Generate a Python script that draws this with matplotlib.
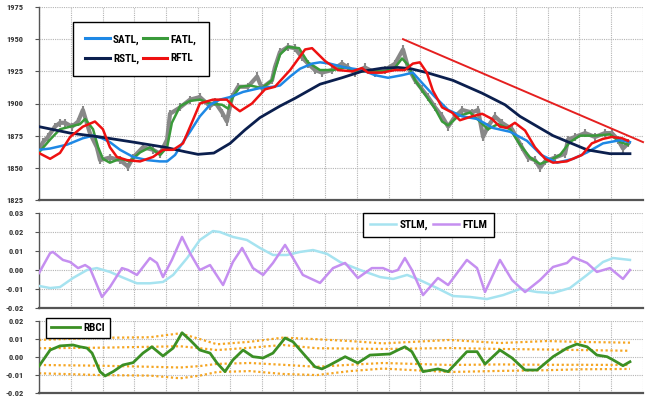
import matplotlib
matplotlib.use("Agg")
import matplotlib.pyplot as plt
from matplotlib import font_manager as fm
from matplotlib.font_manager import FontProperties
from matplotlib.ticker import FixedLocator, FormatStrFormatter

# ---------------- data (x = bar index, gridline every 10 bars) ----------------
price_x = [0, 1.3, 2.8, 5, 6.6, 8.2, 10.4, 12.3, 13.8, 16, 18.2, 19.2, 22.3, 25.5, 28, 29.6, 32.7,
           35.9, 38.1, 40.3, 41.2, 44.4, 47.5, 50.6, 53.8, 55.4, 57.6, 59.1, 60.7, 62.6, 65.7, 68.6,
           70.1, 73.3, 74.2, 75.8, 78.3, 80.5, 82.7, 84.6, 86.8, 89, 92.2, 95.3, 97.2, 99.4, 102.5,
           105.7, 108.8, 112, 114.5, 116.1, 118.3, 120.5, 122.4, 124.6, 126.8, 128.7, 130.9, 133.1,
           136.2, 138.1, 139.7, 141.2, 143.4, 145.6, 148.8, 151.9, 153.8, 156, 157.6, 159.2, 162.3,
           165.5, 166.4, 168.6, 171.8, 174.9, 178, 180.2, 182.1, 183.7, 185.3]
price = [1864, 1870, 1874, 1882, 1885, 1885, 1882, 1886, 1895, 1877, 1866, 1856, 1858, 1856, 1851,
         1858, 1866, 1864, 1861, 1872, 1892, 1897, 1903, 1905, 1898, 1901, 1893, 1886, 1905, 1913,
         1913, 1921, 1912, 1918, 1928, 1940, 1944, 1943, 1936, 1931, 1926, 1924, 1926, 1931, 1928,
         1924, 1928, 1924, 1926, 1931, 1942, 1928, 1918, 1911, 1905, 1897, 1890, 1882, 1890, 1895,
         1893, 1895, 1874, 1882, 1890, 1885, 1880, 1866, 1858, 1856, 1850, 1855, 1858, 1861, 1872,
         1874, 1877, 1874, 1877, 1877, 1872, 1865, 1869]

satl_x = [0, 3.5, 8.8, 13.8, 17, 19.8, 22.3, 25.5, 29.6, 34, 38, 40.3, 42.8, 45.3, 47.5, 50.6, 53.8,
          56.9, 60.1, 64.2, 69.5, 73.6, 75.8, 79, 82.1, 85.9, 88.4, 91.5, 96.3, 101.6, 105.7, 109.8,
          114.2, 117.6, 120.5, 124.6, 128.7, 133.1, 137.8, 142.8, 148.2, 153.5, 158, 163, 168,
          172.4, 177.4, 182.8, 185.9]
satl = [1864, 1865, 1868, 1873, 1875, 1873, 1870, 1864, 1858.5, 1856, 1855, 1855, 1860, 1870, 1878,
        1890, 1899, 1903, 1905, 1909, 1912, 1913, 1914, 1921, 1927, 1931, 1932, 1931, 1928, 1926,
        1922, 1920, 1922, 1924, 1916, 1905, 1895, 1890, 1888, 1881, 1878, 1871, 1860, 1854, 1857,
        1862, 1869, 1871.5, 1870]

fatl_x = [0, 3.5, 6.6, 9.8, 12.9, 14.5, 17, 18.6, 20.1, 22.3, 25.5, 28.6, 31.8, 34.9, 38.1, 40.3,
          41.8, 44.4, 47.5, 50.6, 53.8, 57.6, 59.5, 61, 63.2, 66.4, 70.1, 73.3, 75.8, 78.3, 81.8,
          84.6, 88.4, 92.5, 96.3, 100.3, 104.7, 108.8, 112, 114.2, 116.1, 118.3, 121.4, 124.6,
          126.8, 128.7, 131.8, 135.6, 138.7, 141.2, 144.4, 148.2, 151.3, 154.5, 157.6, 160.8,
          163.9, 167, 170.2, 174.9, 179.6, 182.8, 185.3]
fatl = [1862, 1872, 1880, 1882, 1884, 1888, 1880, 1866, 1857, 1854, 1857, 1855, 1862, 1866, 1860,
        1866, 1885, 1898, 1902, 1903, 1900, 1899, 1896, 1905, 1913, 1914, 1912, 1918, 1938, 1944,
        1943, 1932, 1926, 1926, 1928, 1925, 1925, 1925, 1928, 1935, 1930, 1918, 1907, 1896, 1886,
        1883, 1890, 1893, 1886, 1880, 1884, 1880, 1868, 1858, 1853, 1856, 1860, 1870, 1875, 1875,
        1876, 1870, 1868]

rstl_x = [0, 9.8, 19.2, 29.6, 39.6, 46, 50, 55, 60.1, 64.8, 69.5, 75.8, 80.5, 88.4, 95.3, 101.6,
          108, 113, 117, 122, 130.2, 139.4, 146.6, 151.3, 161.7, 172.4, 179.6, 185.9]
rstl = [1882, 1877, 1874, 1870, 1866, 1862.5, 1860.5, 1861.5, 1869, 1879.5, 1889, 1898, 1904, 1915,
        1920, 1925, 1927.5, 1928, 1927, 1924, 1918, 1908, 1899, 1890, 1875, 1864, 1861, 1861]

rftl_x = [0, 3.5, 6.6, 9.8, 13.8, 17.6, 20.1, 22.3, 24.5, 27.7, 31.8, 35.9, 39, 42.2, 45.3, 48.4,
          50.6, 54.7, 59.1, 61, 63.2, 67, 71.1, 74.2, 79, 83.7, 85.9, 90, 94.1, 98.5, 101.6, 103.5,
          107.9, 112, 115.1, 117.6, 119.8, 122, 123.9, 126.8, 129.9, 132.4, 136.2, 139.4, 142.5,
          145, 147.2, 149.7, 152.9, 156, 159.2, 161.7, 166, 170.8, 173.9, 177.4, 180.2, 183.4, 185.3]
rftl = [1861.5, 1857, 1861.6, 1874, 1882, 1886, 1880, 1866, 1858.5, 1856, 1855, 1858.5, 1864, 1864,
        1869, 1887, 1900, 1903, 1903, 1898, 1894, 1900, 1911, 1913, 1926, 1942, 1943, 1933, 1926,
        1925, 1927.5, 1924, 1924, 1926, 1926, 1931, 1932, 1924, 1910, 1897, 1893, 1887, 1890, 1892,
        1888, 1882, 1881, 1885, 1879, 1866, 1857, 1854, 1855, 1860, 1869, 1872.5, 1874, 1873, 1871]

trend_x = [114.5, 190]
trend = [1950, 1870]

stlm_x = [0, 3.5, 6.6, 10.7, 15.1, 18.2, 22.3, 26.4, 30.8, 34.9, 39, 42.2, 46.6, 50.6, 54.7, 56.9,
          61, 65.4, 69.5, 73.6, 78, 82.1, 86.2, 90.6, 94.7, 101, 107.3, 111.4, 115.8, 119.8, 125.2,
          130.2, 135.6, 140.9, 146, 151.3, 156.7, 161.7, 167, 172.4, 177.4, 180.6, 185.9]
stlm = [-0.0084, -0.0095, -0.009, -0.0042, 0.0, 0.001, -0.001, -0.004, -0.007, -0.007, -0.0063,
        -0.0026, 0.0063, 0.0158, 0.0205, 0.02, 0.0174, 0.0158, 0.0116, 0.0079, 0.0079, 0.0095,
        0.0105, 0.0085, 0.0042, 0.0, -0.0037, -0.0047, -0.0026, -0.0053, -0.0095, -0.0137,
        -0.0142, -0.0153, -0.0132, -0.01, -0.0116, -0.0121, -0.0095, -0.0026, 0.0042, 0.0063, 0.0053]

ftlm_x = [0, 3.5, 4.4, 7.5, 9.8, 12.3, 14.5, 16, 19.8, 22.3, 26.1, 28, 30.8, 34.9, 37.1, 39, 41.8,
          45, 47.5, 50.6, 53.8, 57.9, 61, 63.9, 67.3, 70.5, 73.6, 77.4, 79.9, 83, 88.4, 92.5, 96.3,
          100.3, 104.7, 108.2, 111, 112.9, 115.1, 117.3, 120.8, 125.5, 128.7, 134.6, 137.8, 140.3,
          145, 148.8, 152.9, 157.6, 161.7, 166.1, 168, 172.4, 175.5, 179.6, 183.7, 185.9]
ftlm = [-0.0016, 0.0089, 0.0095, 0.0053, 0.0042, 0.001, 0.0026, 0.001, -0.0142, -0.009, 0.001, 0.0,
        -0.0026, 0.0063, 0.0037, -0.0037, 0.0053, 0.0174, 0.0089, 0.0, 0.0026, -0.0079, 0.0042,
        0.0116, 0.001, -0.0026, 0.0037, 0.0132, 0.0063, -0.0026, -0.0068, 0.001, 0.0037, -0.0042,
        0.001, 0.001, -0.001, 0.0, 0.0063, 0.0, -0.0132, -0.0042, -0.0079, 0.0053, 0.001, -0.0116,
        0.0053, -0.0053, -0.0116, -0.0053, 0.0016, 0.0037, 0.0068, 0.0037, -0.001, 0.001, -0.0047, 0.0]

rbci_x = [0, 3.5, 6.6, 10.7, 12.9, 15.1, 16.7, 19.2, 20.8, 23.3, 26.4, 29.6, 32.7, 35.5, 39, 42.2,
          45, 47.5, 50.6, 53.8, 56, 58.5, 61, 64.2, 67.3, 70.5, 73.6, 77.4, 79.9, 83, 86.8, 89,
          91.5, 96.3, 100.3, 104.1, 110.4, 112.9, 115.1, 117.3, 120.8, 125.5, 128.7, 134.6, 137.8,
          140.3, 145, 148.8, 152.9, 156.7, 161.7, 166.1, 169.2, 172.4, 175.5, 178.7, 180.6, 183.7, 185.9]
rbci = [-0.0052, 0.0037, 0.006, 0.0065, 0.0055, 0.0048, 0.002, -0.0083, -0.0107, -0.0083, -0.0046,
        -0.0033, 0.002, 0.0055, 0.0004, 0.0048, 0.0133, 0.0093, 0.0037, 0.002, -0.0035, -0.0083,
        -0.0018, 0.0037, 0.0, -0.0007, 0.002, 0.0104, 0.0083, 0.002, -0.0056, -0.0068, -0.0046, 0.0,
        -0.0035, 0.0009, 0.0015, 0.0037, 0.0055, 0.0028, -0.0083, -0.0068, -0.0083, 0.0028, 0.0028,
        -0.0041, 0.0037, -0.0007, -0.0074, -0.0074, 0.0, 0.0048, 0.007, 0.0055, 0.0009, 0.0,
        -0.0018, -0.005, -0.0028]

band_x = [0, 19.2, 34.9, 44.4, 50.6, 56, 66.4, 76.8, 87.4, 97.8, 108.2, 129.3, 145, 159.8, 170.2, 185.9]
band_up2 = [0.0093, 0.0105, 0.0108, 0.013, 0.0098, 0.0069, 0.0083, 0.0106, 0.0097, 0.0087, 0.0074,
            0.0093, 0.0076, 0.0087, 0.0082, 0.0078]
band_up1 = [0.0047, 0.005, 0.0055, 0.0058, 0.0047, 0.0037, 0.005, 0.0065, 0.0047, 0.0045, 0.0043,
            0.0048, 0.0043, 0.004, 0.0037, 0.0033]
band_dn1 = [-0.0046, -0.005, -0.0056, -0.006, -0.0052, -0.004, -0.0035, -0.0045, -0.0056, -0.0045,
            -0.0035, -0.0046, -0.0043, -0.0045, -0.0045, -0.0046]
band_dn2 = [-0.0092, -0.0102, -0.0105, -0.012, -0.0105, -0.0085, -0.008, -0.0096, -0.0102, -0.008,
            -0.0066, -0.0085, -0.0079, -0.0075, -0.007, -0.0068]

top_ticks = [1825, 1850, 1875, 1900, 1925, 1950, 1975]
mid_ticks = [-0.02, -0.01, 0.0, 0.01, 0.02, 0.03]
bot_ticks = [-0.02, -0.01, 0.0, 0.01, 0.02]

# ---------------- font choice (narrow face if one is installed) ----------------
_names = {f.name for f in fm.fontManager.ttflist}
_cond_dejavu = any(f.name == 'DejaVu Sans' and str(f.stretch) in ('condensed', 'semi-condensed', '500', '600')
                   for f in fm.fontManager.ttflist)
if 'Liberation Sans Narrow' in _names:
    FAM, STRETCH = 'Liberation Sans Narrow', 'normal'
elif 'Roboto Condensed' in _names:
    FAM, STRETCH = 'Roboto Condensed', 'normal'
elif _cond_dejavu:
    FAM, STRETCH = 'DejaVu Sans', 'condensed'
else:
    FAM, STRETCH = 'Liberation Sans', 'normal'

tick_fp = FontProperties(family=FAM, stretch=STRETCH, weight='bold', size=6)
leg_fp = FontProperties(family=FAM, stretch=STRETCH, weight='bold', size=8)

# ---------------- figure ----------------
W, H = 650, 399
fig = plt.figure(figsize=(6.5, 3.99), dpi=100)

def frac(l, t, r, b):
    return [l / W, 1 - b / H, (r - l) / W, (b - t) / H]

ax1 = fig.add_axes(frac(39, 7, 643, 200))
ax2 = fig.add_axes(frac(39, 213, 643, 308))
ax3 = fig.add_axes(frac(39, 320.7, 643, 392.7))

grid_kw = dict(color='#b4b4b4', linestyle=(0, (1, 1)), linewidth=0.8)

for ax, ticks, lim, fmt in [(ax1, top_ticks, (1825, 1975), '%d'),
                            (ax2, mid_ticks, (-0.02, 0.03), '%.2f'),
                            (ax3, bot_ticks, (-0.02, 0.02), '%.2f')]:
    ax.set_xlim(0, 190)
    ax.set_ylim(*lim)
    ax.xaxis.set_major_locator(FixedLocator(list(range(0, 191, 10))))
    ax.yaxis.set_major_locator(FixedLocator(ticks))
    ax.yaxis.set_major_formatter(FormatStrFormatter(fmt))
    ax.tick_params(axis='x', length=0, labelbottom=False)
    ax.tick_params(axis='y', length=3, width=0.8, color='#555555', pad=8)
    for lab in ax.get_yticklabels():
        lab.set_fontproperties(tick_fp)
        lab.set_color('#333333')
    ax.grid(True, **grid_kw)
    ax.set_axisbelow(True)
    for s in ('top', 'right'):
        ax.spines[s].set_visible(False)
    ax.spines['left'].set_color('#555555')
    ax.spines['bottom'].set_color('#555555')
    ax.spines['left'].set_linewidth(1.0)
    ax.spines['bottom'].set_linewidth(1.6)

def px_anchor(ax, x_px, y_px):
    # convert a figure pixel position (from top-left) into axes fraction
    bb = ax.get_position()
    fx = x_px / W
    fy = 1 - y_px / H
    return ((fx - bb.x0) / bb.width, (fy - bb.y0) / bb.height)

# top panel
ax1.plot(price_x, price, color='#888888', lw=3.0, marker='|', ms=6, mew=1.5, zorder=2)
l_fatl, = ax1.plot(fatl_x, fatl, color='#3a9a3a', lw=1.8, zorder=3)
l_satl, = ax1.plot(satl_x, satl, color='#1e88e5', lw=1.8, zorder=3)
l_rstl, = ax1.plot(rstl_x, rstl, color='#0b1f4e', lw=2.0, zorder=3)
l_rftl, = ax1.plot(rftl_x, rftl, color='#ee1111', lw=1.8, zorder=4)
ax1.plot(trend_x, trend, color='#e52020', lw=1.4, zorder=4, clip_on=False)

leg1 = ax1.legend([l_satl, l_rstl, l_fatl, l_rftl], ['SATL,', 'RSTL,', 'FATL,', 'RFTL'], ncol=2,
                  loc='upper left', bbox_to_anchor=px_anchor(ax1, 73, 22), borderaxespad=0,
                  frameon=True, fancybox=False, edgecolor='black', framealpha=1,
                  prop=leg_fp, handlelength=2.2, columnspacing=0.3, handletextpad=0.3,
                  borderpad=1.1, labelspacing=0.8)
leg1.get_frame().set_linewidth(1.0)
for ln in leg1.get_lines():
    ln.set_linewidth(2.2)

# middle panel
l_stlm, = ax2.plot(stlm_x, stlm, color='#a6e3f0', lw=1.8, zorder=3)
l_ftlm, = ax2.plot(ftlm_x, ftlm, color='#c58ff0', lw=1.8, zorder=3)
leg2 = ax2.legend([l_stlm, l_ftlm], ['STLM,', 'FTLM'], ncol=2, loc='upper left',
                  bbox_to_anchor=px_anchor(ax2, 363, 213), borderaxespad=0,
                  frameon=True, fancybox=False, edgecolor='black', framealpha=1,
                  prop=leg_fp, handlelength=2.4, columnspacing=0.4, handletextpad=0.3,
                  borderpad=0.6)
leg2.get_frame().set_linewidth(1.0)

# bottom panel
for band in (band_up2, band_up1, band_dn1, band_dn2):
    ax3.plot(band_x, band, color='#f5a623', lw=1.6, linestyle=(0, (1, 1.2)), zorder=2)
l_rbci, = ax3.plot(rbci_x, rbci, color='#3b8f24', lw=2.0, zorder=3)
leg3 = ax3.legend([l_rbci], ['RBCI'], loc='upper left',
                  bbox_to_anchor=px_anchor(ax3, 46, 318), borderaxespad=0,
                  frameon=True, fancybox=False, edgecolor='black', framealpha=1,
                  prop=leg_fp, handlelength=2.6, handletextpad=0.35, borderpad=0.45)
leg3.get_frame().set_linewidth(1.0)

fig.savefig('out.png', dpi=100)
